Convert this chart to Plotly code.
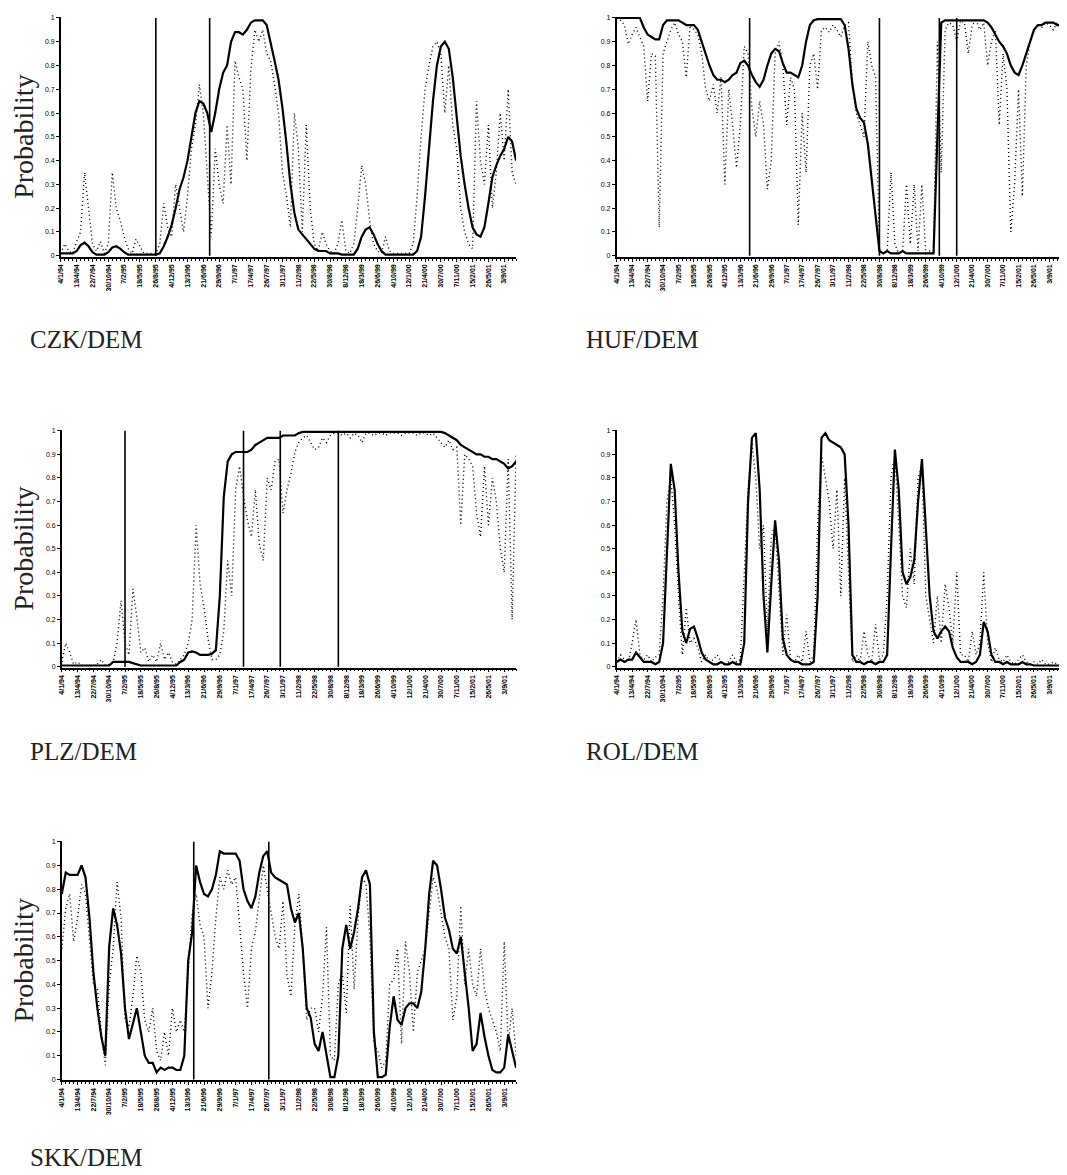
import plotly.graph_objects as go

# ---------------- data ----------------
tick_labels = ["4/1/94", "13/4/94", "22/7/94", "30/10/94", "7/2/95", "18/5/95", "26/8/95", "4/12/95",
               "13/3/96", "21/6/96", "29/9/96", "7/1/97", "17/4/97", "26/7/97", "3/11/97", "11/2/98",
               "22/5/98", "30/8/98", "8/12/98", "18/3/99", "26/6/99", "4/10/99", "12/1/00", "21/4/00",
               "30/7/00", "7/11/00", "15/2/01", "26/5/01", "3/9/01"]
y_tick_values = [0, 0.1, 0.2, 0.3, 0.4, 0.5, 0.6, 0.7, 0.8, 0.9, 1]
y_tick_labels = ["0", "0.1", "0.2", "0.3", "0.4", "0.5", "0.6", "0.7", "0.8", "0.9", "1"]

czk_smooth = [0.01, 0.01, 0.01, 0.01, 0.02, 0.045, 0.055, 0.04, 0.015, 0.005,
              0.005, 0.005, 0.015, 0.035, 0.04, 0.03, 0.015, 0.005, 0.005, 0.005,
              0.005, 0.005, 0.005, 0.005, 0.005, 0.01, 0.04, 0.08, 0.13, 0.2,
              0.28, 0.33, 0.4, 0.5, 0.6, 0.65, 0.64, 0.6, 0.52, 0.6,
              0.7, 0.77, 0.8, 0.9, 0.94, 0.94, 0.93, 0.95, 0.98, 0.99,
              0.99, 0.99, 0.97, 0.9, 0.82, 0.74, 0.62, 0.47, 0.3, 0.18,
              0.11, 0.09, 0.07, 0.05, 0.03, 0.02, 0.02, 0.02, 0.01, 0.01,
              0.01, 0.005, 0.005, 0.005, 0.005, 0.03, 0.08, 0.11, 0.12, 0.09,
              0.05, 0.02, 0.005, 0.005, 0.005, 0.005, 0.005, 0.005, 0.005, 0.005,
              0.02, 0.08, 0.25, 0.45, 0.65, 0.8, 0.88, 0.9, 0.87, 0.75,
              0.58, 0.42, 0.3, 0.2, 0.12, 0.09, 0.08, 0.12, 0.22, 0.33,
              0.38, 0.42, 0.45, 0.5, 0.48, 0.4]
czk_filtered = [0.01, 0.05, 0.02, 0.01, 0.06, 0.1, 0.35, 0.2, 0.05, 0.02,
                0.06, 0.01, 0.05, 0.35, 0.2, 0.15, 0.08, 0.03, 0.01, 0.07,
                0.04, 0.01, 0.01, 0.01, 0.01, 0.05, 0.22, 0.12, 0.08, 0.3,
                0.2, 0.1, 0.25, 0.45, 0.55, 0.72, 0.6, 0.35, 0.08, 0.45,
                0.3, 0.22, 0.55, 0.3, 0.82, 0.75, 0.7, 0.4, 0.78, 0.95,
                0.9, 0.95, 0.85, 0.82, 0.72, 0.6, 0.35, 0.25, 0.12, 0.6,
                0.45, 0.1, 0.55, 0.2, 0.05, 0.02, 0.1, 0.05, 0.02, 0.01,
                0.05, 0.15, 0.02, 0.01, 0.05, 0.2, 0.38, 0.3, 0.15, 0.05,
                0.02, 0.01, 0.08, 0.02, 0.01, 0.01, 0.01, 0.01, 0.01, 0.05,
                0.25, 0.5, 0.7, 0.8, 0.88, 0.9, 0.85, 0.6, 0.8, 0.55,
                0.45, 0.2, 0.1, 0.05, 0.03, 0.65, 0.4, 0.3, 0.55, 0.2,
                0.35, 0.6, 0.4, 0.7, 0.35, 0.3]
czk_breaks = [24.0, 37.6]

huf_smooth = [1.0, 1.0, 1.0, 1.0, 1.0, 1.0, 1.0, 0.96, 0.93, 0.92,
              0.91, 0.91, 0.97, 0.99, 0.99, 0.99, 0.99, 0.98, 0.97, 0.97,
              0.97, 0.95, 0.9, 0.84, 0.8, 0.76, 0.74, 0.74, 0.73, 0.74,
              0.76, 0.77, 0.81, 0.82, 0.8, 0.76, 0.73, 0.71, 0.74, 0.8,
              0.85, 0.87, 0.86, 0.81, 0.77, 0.77, 0.76, 0.75, 0.8, 0.9,
              0.97, 0.99, 0.995, 0.995, 0.995, 0.995, 0.995, 0.995, 0.995, 0.97,
              0.87, 0.72, 0.62, 0.58, 0.56, 0.47, 0.32, 0.15, 0.02, 0.01,
              0.02, 0.01, 0.01, 0.01, 0.02, 0.01, 0.01, 0.01, 0.01, 0.01,
              0.01, 0.01, 0.01, 0.5, 0.98, 0.99, 0.99, 0.99, 0.99, 0.99,
              0.99, 0.99, 0.99, 0.99, 0.99, 0.99, 0.98, 0.96, 0.93, 0.9,
              0.88, 0.85, 0.8, 0.77, 0.76, 0.8, 0.85, 0.9, 0.95, 0.97,
              0.97, 0.98, 0.98, 0.98, 0.97, 0.97]
huf_filtered = [1.0, 0.99, 0.97, 0.89, 0.93, 0.96, 0.92, 0.88, 0.65, 0.85,
                0.84, 0.12, 0.85, 0.9, 0.95, 0.98, 0.93, 0.9, 0.75, 0.97,
                0.95, 0.93, 0.85, 0.7, 0.65, 0.72, 0.6, 0.75, 0.3, 0.7,
                0.55, 0.37, 0.55, 0.88, 0.85, 0.62, 0.5, 0.65, 0.55, 0.28,
                0.4, 0.85, 0.9, 0.8, 0.55, 0.75, 0.7, 0.13, 0.6, 0.35,
                0.8, 0.85, 0.7, 0.95, 0.96, 0.94, 0.97, 0.95, 0.92, 0.97,
                0.98, 0.72, 0.6, 0.55, 0.5, 0.9, 0.8, 0.75, 0.02, 0.01,
                0.02, 0.35, 0.05, 0.01, 0.02, 0.3, 0.05, 0.3, 0.02, 0.3,
                0.01, 0.02, 0.01, 0.9, 0.35, 0.95, 0.98, 0.97, 0.9, 0.99,
                0.98, 0.85, 0.97, 0.99, 0.95, 0.98, 0.8, 0.9, 0.95, 0.55,
                0.85, 0.7, 0.1, 0.3, 0.7, 0.25, 0.8, 0.9, 0.95, 0.97,
                0.96, 0.98, 0.97, 0.95, 0.98, 0.97]
huf_breaks = [34.4, 68.0, 83.5, 88.0]

plz_smooth = [0.005, 0.005, 0.005, 0.005, 0.005, 0.005, 0.005, 0.005, 0.005, 0.005,
              0.005, 0.005, 0.005, 0.02, 0.02, 0.02, 0.02, 0.02, 0.015, 0.01,
              0.005, 0.005, 0.005, 0.005, 0.005, 0.005, 0.005, 0.005, 0.005, 0.005,
              0.02, 0.03, 0.06, 0.065, 0.06, 0.05, 0.05, 0.05, 0.055, 0.07,
              0.3, 0.72, 0.87, 0.9, 0.91, 0.91, 0.91, 0.91, 0.92, 0.94,
              0.95, 0.96, 0.97, 0.97, 0.97, 0.97, 0.98, 0.98, 0.98, 0.98,
              0.99, 0.995, 0.995, 0.995, 0.995, 0.995, 0.995, 0.995, 0.995, 0.995,
              0.995, 0.995, 0.995, 0.995, 0.995, 0.995, 0.995, 0.995, 0.995, 0.995,
              0.995, 0.995, 0.995, 0.995, 0.995, 0.995, 0.995, 0.995, 0.995, 0.995,
              0.995, 0.995, 0.995, 0.995, 0.995, 0.995, 0.995, 0.99, 0.98, 0.97,
              0.96, 0.94, 0.93, 0.92, 0.91, 0.9, 0.9, 0.89, 0.89, 0.88,
              0.88, 0.87, 0.86, 0.84, 0.85, 0.87]
plz_filtered = [0.02, 0.1, 0.06, 0.01, 0.02, 0.005, 0.005, 0.005, 0.005, 0.01,
                0.03, 0.005, 0.01, 0.02, 0.1, 0.28, 0.1, 0.05, 0.33, 0.21,
                0.06, 0.08, 0.02, 0.05, 0.02, 0.1, 0.03, 0.06, 0.02, 0.01,
                0.03, 0.05, 0.1, 0.2, 0.6, 0.35, 0.25, 0.12, 0.03, 0.03,
                0.05, 0.15, 0.45, 0.3, 0.75, 0.85, 0.72, 0.62, 0.55, 0.75,
                0.52, 0.45, 0.8, 0.75, 0.87, 0.88, 0.65, 0.75, 0.82, 0.91,
                0.95, 0.97, 0.98, 0.95, 0.92, 0.93, 0.97, 0.95, 0.98, 0.99,
                0.99, 0.98, 0.99, 0.97, 0.99, 0.98, 0.95, 0.99, 0.99, 0.98,
                0.99, 0.99, 0.98, 0.99, 0.99, 0.99, 0.98, 0.99, 0.99, 0.99,
                0.98, 0.99, 0.99, 0.98, 0.99, 0.97, 0.95, 0.93, 0.96, 0.92,
                0.93, 0.6, 0.9, 0.88, 0.85, 0.65, 0.55, 0.85, 0.6, 0.8,
                0.7, 0.5, 0.4, 0.88, 0.2, 0.9]
plz_breaks = [16.0, 46.0, 55.3, 70.0]

rol_smooth = [0.02, 0.03, 0.02, 0.03, 0.03, 0.06, 0.04, 0.02, 0.02, 0.02,
              0.01, 0.02, 0.1, 0.5, 0.86, 0.75, 0.4, 0.15, 0.1, 0.16,
              0.17, 0.12, 0.06, 0.03, 0.02, 0.01, 0.01, 0.02, 0.01, 0.01,
              0.02, 0.01, 0.01, 0.1, 0.7, 0.97, 0.99, 0.75, 0.3, 0.06,
              0.35, 0.62, 0.45, 0.12, 0.05, 0.03, 0.02, 0.02, 0.01, 0.01,
              0.01, 0.02, 0.3, 0.97, 0.99, 0.96, 0.95, 0.94, 0.93, 0.9,
              0.6, 0.05, 0.02, 0.02, 0.01, 0.02, 0.02, 0.01, 0.02, 0.02,
              0.05, 0.5, 0.92, 0.75, 0.4, 0.35, 0.38, 0.45, 0.7, 0.88,
              0.6, 0.3, 0.15, 0.12, 0.15, 0.17, 0.15, 0.08, 0.04, 0.02,
              0.02, 0.02, 0.01, 0.02, 0.05, 0.19, 0.15, 0.05, 0.02, 0.02,
              0.01, 0.02, 0.01, 0.01, 0.01, 0.02, 0.01, 0.01, 0.005, 0.005,
              0.005, 0.005, 0.005, 0.005, 0.005, 0.005]
rol_filtered = [0.02, 0.05, 0.03, 0.02, 0.1, 0.2, 0.05, 0.03, 0.05, 0.02,
                0.04, 0.05, 0.3, 0.7, 0.8, 0.6, 0.3, 0.05, 0.25, 0.1,
                0.12, 0.08, 0.02, 0.05, 0.02, 0.03, 0.05, 0.02, 0.01, 0.02,
                0.05, 0.02, 0.03, 0.4, 0.75, 0.95, 0.8, 0.5, 0.6, 0.15,
                0.55, 0.6, 0.3, 0.05, 0.22, 0.03, 0.02, 0.05, 0.02, 0.15,
                0.02, 0.05, 0.6, 0.9, 0.8, 0.7, 0.5, 0.75, 0.3, 0.8,
                0.4, 0.02, 0.05, 0.02, 0.15, 0.05, 0.02, 0.18, 0.03, 0.05,
                0.3, 0.8, 0.9, 0.6, 0.3, 0.25, 0.5, 0.35, 0.8, 0.85,
                0.3, 0.2, 0.1, 0.3, 0.1, 0.35, 0.25, 0.1, 0.4, 0.05,
                0.05, 0.02, 0.15, 0.05, 0.1, 0.4, 0.1, 0.02, 0.08, 0.03,
                0.02, 0.05, 0.02, 0.01, 0.03, 0.05, 0.02, 0.01, 0.02, 0.01,
                0.03, 0.01, 0.01, 0.02, 0.01, 0.01]
rol_breaks = []

skk_smooth = [0.78, 0.87, 0.86, 0.86, 0.86, 0.9, 0.85, 0.68, 0.45, 0.3,
              0.18, 0.1, 0.56, 0.72, 0.65, 0.53, 0.3, 0.17, 0.24, 0.3,
              0.2, 0.1, 0.07, 0.07, 0.03, 0.05, 0.04, 0.05, 0.05, 0.04,
              0.04, 0.1, 0.5, 0.62, 0.9, 0.83, 0.78, 0.77, 0.8, 0.86,
              0.96, 0.95, 0.95, 0.95, 0.95, 0.92, 0.8, 0.75, 0.72, 0.77,
              0.87, 0.94, 0.96, 0.87, 0.85, 0.84, 0.83, 0.82, 0.72, 0.66,
              0.7, 0.55, 0.3, 0.26, 0.15, 0.12, 0.2, 0.1, 0.01, 0.01,
              0.1, 0.55, 0.65, 0.55, 0.62, 0.72, 0.85, 0.88, 0.82, 0.2,
              0.01, 0.01, 0.02, 0.22, 0.35, 0.25, 0.23, 0.3, 0.32, 0.32,
              0.3, 0.37, 0.55, 0.78, 0.92, 0.9, 0.8, 0.68, 0.63, 0.55,
              0.53, 0.6, 0.45, 0.3, 0.12, 0.15, 0.28, 0.18, 0.1, 0.04,
              0.03, 0.03, 0.05, 0.19, 0.12, 0.05]
skk_filtered = [0.55, 0.72, 0.78, 0.58, 0.68, 0.82, 0.78, 0.6, 0.4, 0.38,
                0.2, 0.06, 0.4, 0.55, 0.83, 0.68, 0.25, 0.22, 0.35, 0.52,
                0.45, 0.25, 0.2, 0.3, 0.12, 0.08, 0.2, 0.1, 0.3, 0.2,
                0.25, 0.2, 0.45, 0.7, 0.78, 0.65, 0.6, 0.3, 0.45, 0.68,
                0.85, 0.8, 0.88, 0.82, 0.85, 0.65, 0.45, 0.3, 0.55, 0.62,
                0.75, 0.9, 0.8, 0.7, 0.6, 0.55, 0.75, 0.44, 0.35, 0.65,
                0.78, 0.55, 0.25, 0.3, 0.3, 0.2, 0.35, 0.64, 0.1, 0.08,
                0.4, 0.45, 0.28, 0.73, 0.38, 0.68, 0.85, 0.82, 0.6, 0.15,
                0.12, 0.05, 0.08, 0.4, 0.42, 0.55, 0.15, 0.58, 0.45, 0.2,
                0.45, 0.5, 0.55, 0.7, 0.85, 0.8, 0.7, 0.6, 0.55, 0.25,
                0.35, 0.73, 0.4, 0.55, 0.4, 0.35, 0.55, 0.38, 0.3, 0.25,
                0.2, 0.12, 0.58, 0.15, 0.3, 0.1]
skk_breaks = [33.4, 52.4]

panel_names = ["CZK/DEM", "HUF/DEM", "PLZ/DEM", "ROL/DEM", "SKK/DEM"]

# ---------------- layout geometry (screen pixels) ----------------
PAGE_MARGIN = 8                      # default body margin of the html page
W, H = 1067 - PAGE_MARGIN, 1175 - PAGE_MARGIN


def fx(px):
    return min(1.0, max(0.0, (px - PAGE_MARGIN) / W))


def fy(py):
    return min(1.0, max(0.0, 1 - (py - PAGE_MARGIN) / H))


panels = [
    dict(name=panel_names[0], smooth=czk_smooth, filt=czk_filtered, breaks=czk_breaks,
         box=(57, 514, 14, 255), label=(24, 338), ylabel=True),
    dict(name=panel_names[1], smooth=huf_smooth, filt=huf_filtered, breaks=huf_breaks,
         box=(615, 1061, 14, 255), label=(582, 338), ylabel=False),
    dict(name=panel_names[2], smooth=plz_smooth, filt=plz_filtered, breaks=plz_breaks,
         box=(58, 514, 429, 668), label=(24, 752), ylabel=True),
    dict(name=panel_names[3], smooth=rol_smooth, filt=rol_filtered, breaks=rol_breaks,
         box=(615, 1061, 429, 668), label=(582, 752), ylabel=False),
    dict(name=panel_names[4], smooth=skk_smooth, filt=skk_filtered, breaks=skk_breaks,
         box=(58, 514, 842, 1083), label=(24, 1160), ylabel=True),
]

fig = go.Figure()
annotations = []
shapes = []
layout_axes = {}

for k, p in enumerate(panels, start=1):
    xa = "x" if k == 1 else f"x{k}"
    ya = "y" if k == 1 else f"y{k}"
    n = len(p["smooth"])
    idx = list(range(n))
    fig.add_trace(go.Scatter(x=idx, y=p["filt"], mode="lines",
                             line=dict(color="black", width=1.4, dash="1px,3px"),
                             xaxis=xa, yaxis=ya, showlegend=False, hoverinfo="skip"))
    fig.add_trace(go.Scatter(x=idx, y=p["smooth"], mode="lines",
                             line=dict(color="black", width=2.2),
                             xaxis=xa, yaxis=ya, showlegend=False))
    for v in p["breaks"]:
        shapes.append(dict(type="line", xref=xa, yref=ya, x0=v, x1=v, y0=0, y1=1,
                           line=dict(color="black", width=1.6)))

    x0, x1, y0, y1 = p["box"]
    tickvals = list(range(0, n, 4))[:len(tick_labels)]
    layout_axes["xaxis" if k == 1 else f"xaxis{k}"] = dict(
        domain=[fx(x0), fx(x1)], anchor=ya, range=[0, n - 1],
        tickmode="array", tickvals=tickvals, ticktext=tick_labels[:len(tickvals)],
        tickangle=-90,
        tickfont=dict(family="Liberation Sans", size=7, color="black", weight="bold"),
        ticks="outside", ticklen=3, tickwidth=1.2, tickcolor="black",
        minor=dict(tickmode="linear", tick0=0, dtick=1, ticks="outside", ticklen=2,
                   tickwidth=1, tickcolor="black"),
        showline=True, linecolor="black", linewidth=1.6,
        showgrid=False, zeroline=False, fixedrange=True)
    layout_axes["yaxis" if k == 1 else f"yaxis{k}"] = dict(
        domain=[fy(y1), fy(y0)], anchor=xa, range=[-0.004, 1.004],
        tickmode="array", tickvals=y_tick_values, ticktext=y_tick_labels,
        tickfont=dict(family="Liberation Sans", size=7, color="black"),
        ticks="outside", ticklen=3, tickwidth=1.2, tickcolor="black",
        showline=True, linecolor="black", linewidth=1.6,
        showgrid=False, zeroline=False, fixedrange=True)

    lx, ly = p["label"]
    annotations.append(dict(text=p["name"], xref="paper", yref="paper",
                            x=fx(lx), y=fy(ly), xanchor="left", yanchor="middle",
                            showarrow=False,
                            font=dict(family="Liberation Serif", size=25, color="#222")))
    if p["ylabel"]:
        annotations.append(dict(text="Probability", xref="paper", yref="paper",
                                x=fx(20), y=fy((y0 + y1) / 2),
                                xanchor="center", yanchor="middle", textangle=-90,
                                showarrow=False,
                                font=dict(family="Liberation Serif", size=28, color="#222")))

fig.update_layout(width=W, height=H, margin=dict(l=0, r=0, t=0, b=0),
                  paper_bgcolor="white", plot_bgcolor="white",
                  annotations=annotations, shapes=shapes, **layout_axes)

fig.write_html("out.html")
